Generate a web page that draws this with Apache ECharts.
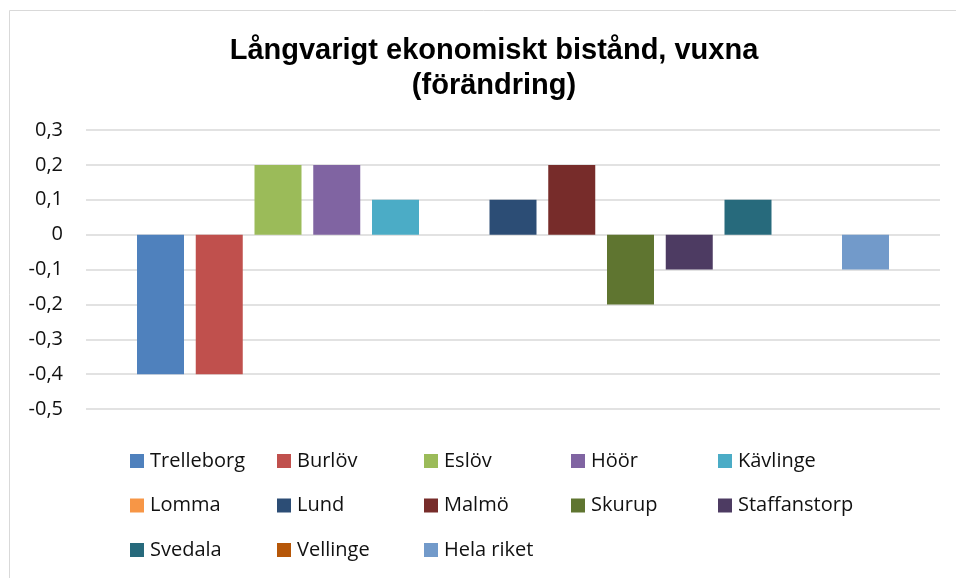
<!DOCTYPE html>
<html lang="sv">
<head>
<meta charset="utf-8">
<script src="https://cdn.jsdelivr.net/npm/echarts@6/dist/echarts.min.js"></script>
<style>
  html, body { margin: 0; padding: 0; background: #fff; }
  #chart { width: 956px; height: 578px; }
</style>
</head>
<body>
<div id="chart"></div>
<script type="text/javascript">
    var names = ['Trelleborg', 'Burlöv', 'Eslöv', 'Höör', 'Kävlinge',
                 'Lomma', 'Lund', 'Malmö', 'Skurup', 'Staffanstorp',
                 'Svedala', 'Vellinge', 'Hela riket'];
    var values = [-0.4, -0.4, 0.2, 0.2, 0.1, 0, 0.1, 0.2, -0.2, -0.1, 0.1, 0, -0.1];
    var colors = ['#4F81BD', '#C0504D', '#9BBB59', '#8064A2', '#4BACC6',
                  '#F79646', '#2C4D75', '#772C2A', '#5F7530', '#4D3B62',
                  '#276A7C', '#B65708', '#729ACA'];

    var myChart = echarts.init(document.getElementById('chart'));

    var series = [];
    var legends = [];
    for (var i = 0; i < names.length; i++) {
        series.push({
            name: names[i],
            type: 'bar',
            data: [values[i]],
            barWidth: 47,
            barGap: '25%',
            itemStyle: { color: colors[i] }
        });
        // legend laid out as a 5-column grid, like Excel does
        legends.push({
            data: [names[i]],
            left: 130 + (i % 5) * 147,
            top: 449 + Math.floor(i / 5) * 44.5,
            icon: 'rect',
            itemWidth: 14,
            itemHeight: 14,
            itemGap: 0,
            padding: 0,
            textStyle: {
                fontFamily: 'Open Sans',
                fontSize: 20,
                lineHeight: 24,
                color: '#111',
                padding: [0, 0, 0, 1]
            }
        });
    }

    var option = {
        animation: false,
        title: {
            text: 'Långvarigt ekonomiskt bistånd, vuxna\n(förändring)',
            left: 489,
            textAlign: 'center',
            top: 28,
            textStyle: {
                fontFamily: 'Liberation Sans',
                fontWeight: 'bold',
                fontSize: 29,
                lineHeight: 35,
                color: '#000'
            }
        },
        graphic: [{
            type: 'rect',
            shape: { x: 9.5, y: 10.5, width: 960, height: 580 },
            style: { fill: 'none', stroke: '#d9d9d9', lineWidth: 1 }
        }],
        legend: legends,
        grid: { left: 86, right: 16, top: 130, bottom: 169 },
        xAxis: {
            type: 'category',
            data: [''],
            axisLine: { show: false },
            axisTick: { show: false },
            axisLabel: { show: false }
        },
        yAxis: {
            type: 'value',
            min: -0.5,
            max: 0.3,
            interval: 0.1,
            axisLine: { show: false },
            axisTick: { show: false },
            splitLine: { lineStyle: { color: '#d9d9d9', width: 1.5 } },
            axisLabel: {
                margin: 23,
                fontFamily: 'Open Sans',
                fontSize: 20,
                color: '#111',
                formatter: function (v) {
                    var r = Math.round(v * 10) / 10;
                    return String(r).replace('.', ',');
                }
            }
        },
        series: series
    };

    myChart.setOption(option);
</script>
</body>
</html>
